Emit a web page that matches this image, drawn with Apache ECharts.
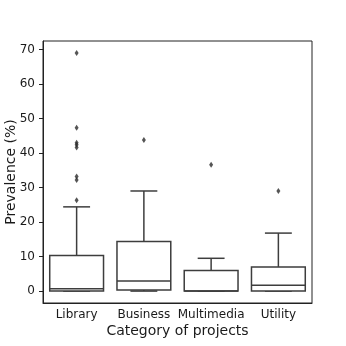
<!DOCTYPE html>
<html><head><meta charset="utf-8">
<script src="https://cdn.jsdelivr.net/npm/echarts@6/dist/echarts.min.js"></script>
<style>html,body{margin:0;padding:0;background:#fff}#c{width:346px;height:346px}</style>
</head><body><div id="c"></div>
<script>
var categories = ['Library', 'Business', 'Multimedia', 'Utility'];
// [min whisker, Q1, median, Q3, max whisker]
var boxLibrary = [0, 0, 0.7, 10.3, 24.4];
var boxBusiness = [0, 0.3, 2.9, 14.4, 29.0];
var boxMultimedia = [0, 0, 0, 6.0, 9.5];
var boxUtility = [0, 0, 1.7, 7.0, 16.8];
var outLibrary = [26.3, 32.2, 33.2, 41.6, 42.4, 43.0, 47.3, 69.0];
var outBusiness = [43.8];
var outMultimedia = [36.6];
var outUtility = [29.0];
var yTicks = [0, 10, 20, 30, 40, 50, 60, 70];

var boxes = [boxLibrary, boxBusiness, boxMultimedia, boxUtility];
var outs = [outLibrary, outBusiness, outMultimedia, outUtility];
var boxData = boxes.map(function (b, i) { return [i].concat(b); });
var outData = [];
outs.forEach(function (o, i) { o.forEach(function (v) { outData.push([i, v]); }); });

var LC = '#3d3d3d';
var TC = '#1a1a1a';
var chart = echarts.init(document.getElementById('c'));
chart.setOption({
  animation: false,
  grid: { left: 43, right: 34, top: 41, bottom: 43, containLabel: false, outerBoundsMode: 'none', show: true, borderColor: '#222', borderWidth: 1, backgroundColor: '#fff' },
  xAxis: {
    type: 'category', data: categories,
    name: 'Category of projects', nameLocation: 'middle', nameGap: 21, nameMoveOverlap: false,
    nameTextStyle: { fontFamily: 'DejaVu Sans', fontSize: 14, color: TC },
    axisLine: { onZero: false, lineStyle: { color: '#222' } },
    axisTick: { alignWithLabel: true, length: 4, lineStyle: { color: '#222' } },
    axisLabel: { fontFamily: 'DejaVu Sans', fontSize: 12, color: TC, margin: 6, interval: 0 }
  },
  yAxis: {
    type: 'value', min: -3.45, max: 72.45,
    name: 'Prevalence (%)', nameLocation: 'middle', nameGap: 25, nameMoveOverlap: false,
    nameTextStyle: { fontFamily: 'DejaVu Sans', fontSize: 14, color: TC },
    splitLine: { show: false },
    axisLine: { show: true, lineStyle: { color: '#222' } },
    axisTick: { show: true, length: 4, customValues: yTicks, lineStyle: { color: '#222' } },
    axisLabel: { fontFamily: 'DejaVu Sans', fontSize: 12, color: TC, margin: 8, customValues: yTicks }
  },
  series: [{
    type: 'custom',
    data: boxData,
    encode: { x: 0, y: [1, 2, 3, 4, 5] },
    renderItem: function (params, api) {
      var idx = api.value(0);
      var cx = api.coord([idx, 0])[0];
      var bw = api.size([1, 0])[0] * 0.8;
      var yMin = api.coord([idx, api.value(1)])[1];
      var yQ1 = api.coord([idx, api.value(2)])[1];
      var yMed = api.coord([idx, api.value(3)])[1];
      var yQ3 = api.coord([idx, api.value(4)])[1];
      var yMax = api.coord([idx, api.value(5)])[1];
      var st = { stroke: LC, lineWidth: 1.5, fill: null };
      return {
        type: 'group',
        children: [
          { type: 'line', shape: { x1: cx, y1: yQ3, x2: cx, y2: yMax }, style: st },
          { type: 'line', shape: { x1: cx, y1: yQ1, x2: cx, y2: yMin }, style: st },
          { type: 'line', shape: { x1: cx - bw / 4, y1: yMax, x2: cx + bw / 4, y2: yMax }, style: st },
          { type: 'line', shape: { x1: cx - bw / 4, y1: yMin, x2: cx + bw / 4, y2: yMin }, style: st },
          { type: 'rect', shape: { x: cx - bw / 2, y: yQ3, width: bw, height: yQ1 - yQ3 }, style: { stroke: LC, lineWidth: 1.5, fill: '#fff' } },
          { type: 'line', shape: { x1: cx - bw / 2, y1: yMed, x2: cx + bw / 2, y2: yMed }, style: st }
        ]
      };
    }
  }, {
    type: 'scatter',
    data: outData,
    symbol: 'diamond',
    symbolSize: [4, 6],
    itemStyle: { color: '#2a2a2a' },
    z: 5
  }]
});
</script></body></html>
